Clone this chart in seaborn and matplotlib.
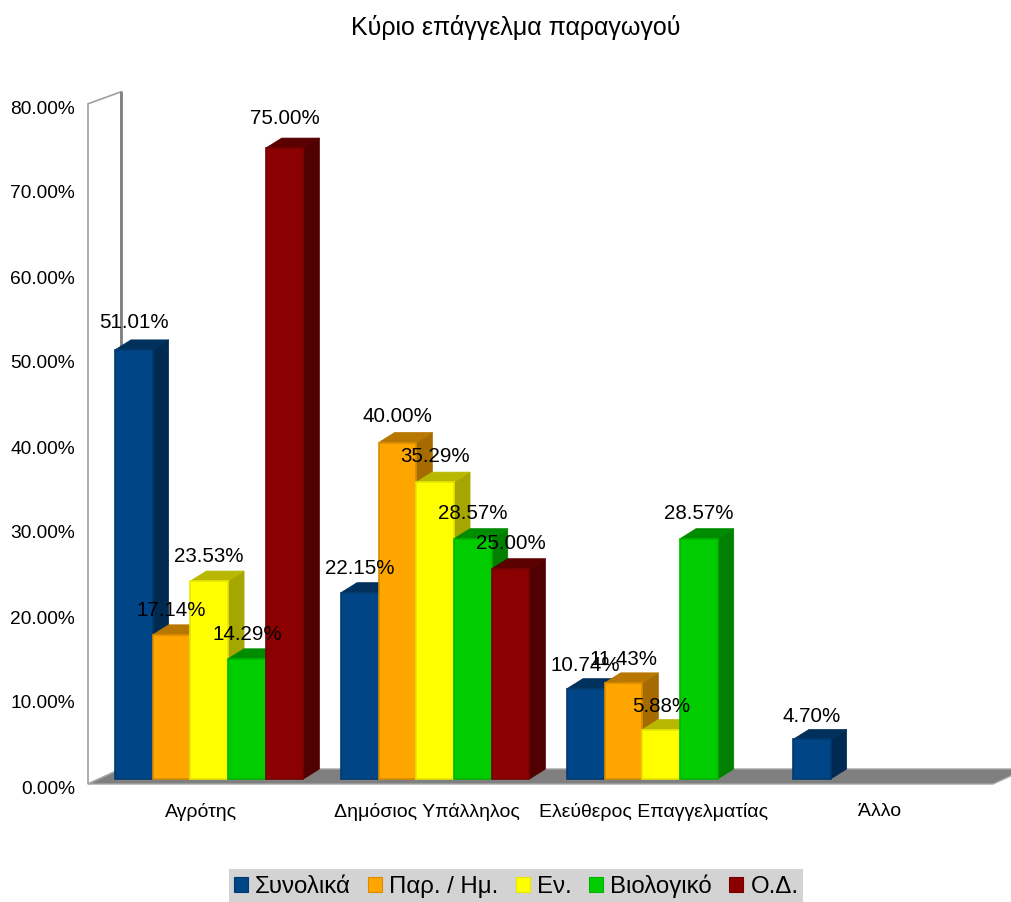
import numpy as np
import pandas as pd
import matplotlib
matplotlib.use("Agg")
import matplotlib.pyplot as plt
from matplotlib.patches import Patch, Polygon
import seaborn as sns

TITLE = "Κύριο επάγγελμα παραγωγού"
categories = ["Αγρότης", "Δημόσιος Υπάλληλος", "Ελεύθερος Επαγγελματίας", "Άλλο"]
series = ["Συνολικά", "Παρ. / Ημ.", "Εν.", "Βιολογικό", "Ο.Δ."]
synolika = [51.01, 22.15, 10.74, 4.70]
par_im = [17.14, 40.00, 11.43, np.nan]
en = [23.53, 35.29, 5.88, np.nan]
viologiko = [14.29, 28.57, 28.57, np.nan]
od = [75.00, 25.00, np.nan, np.nan]
y_ticks = [0, 10, 20, 30, 40, 50, 60, 70, 80]

front_colors = ["#004586", "#FFA500", "#FFFF00", "#00CC00", "#8B0000"]
edge_colors = ["#003A70", "#D98C00", "#E6E600", "#00B400", "#780000"]
side_colors = ["#002A52", "#A66B00", "#A6A600", "#007F00", "#500000"]
top_colors = ["#00305C", "#B87700", "#B8B800", "#008C00", "#5A0000"]

# px sizes of the fake 3D projection
W, H = 1011, 902
PX_X = 226        # px per category
PX_Y = 8.41       # px per percent
BAR_DX, BAR_DY = 16 / PX_X, 10 / PX_Y
BOX_DX, BOX_DY = 33 / PX_X, 15 / PX_Y

df = pd.DataFrame({"category": categories, series[0]: synolika, series[1]: par_im,
                   series[2]: en, series[3]: viologiko, series[4]: od})
long_df = df.melt(id_vars="category", var_name="series", value_name="value").dropna()

sns.set_style("white")
plt.rcParams["font.family"] = ["Liberation Sans", "DejaVu Sans"]
plt.rcParams["text.color"] = "black"
plt.rcParams["xtick.color"] = "black"
plt.rcParams["ytick.color"] = "black"

fig = plt.figure(figsize=(W / 100, H / 100), dpi=100)
ax = fig.add_axes([88 / W, (H - 779) / H, (993 - 88) / W, (779 - 106) / H])
ax.patch.set_visible(False)

# value axis sits on the front edge of the box, not on the bar plane
ax_y = fig.add_axes([88 / W, (H - 787) / H, 1 / W, (787 - 107) / H])
ax_y.patch.set_visible(False)
ax_y.set_ylim(0, 80)
ax_y.set_xticks([])
ax_y.set_yticks(y_ticks)
ax_y.set_yticklabels([f"{t:.2f}%" for t in y_ticks], fontsize=13.8)
ax_y.tick_params(axis="y", length=0, pad=9.4)
sns.despine(ax=ax_y, left=True, bottom=True)

sns.barplot(data=long_df, x="category", y="value", hue="series", order=categories,
            hue_order=series, palette=dict(zip(series, front_colors)), saturation=1,
            width=0.834, gap=0, legend=False, ax=ax)

x_left = (88 - 209.2) / PX_X
ax.set_xlim(x_left, x_left + (993 - 88) / PX_X)
ax.set_ylim(0, 80)

# floor and left wall
floor_y = -5 / PX_Y
x_right = ax.get_xlim()[1]
wall_top = 80.26
ax.add_patch(Polygon([(x_left, floor_y), (x_left, wall_top),
                      (x_left + BOX_DX, wall_top + 12 / PX_Y),
                      (x_left + BOX_DX, floor_y + BOX_DY)],
                     closed=True, fc="white", ec="#A0A0A0", lw=1.2, zorder=1, clip_on=False))
ax.plot([x_left + BOX_DX] * 2, [floor_y + BOX_DY, wall_top + 12 / PX_Y], color="#808080",
        lw=2, zorder=1.1, clip_on=False)
ax.add_patch(Polygon([(x_left, floor_y), (x_right, floor_y),
                      (x_right + BOX_DX, floor_y + BOX_DY), (x_left + BOX_DX, floor_y + BOX_DY)],
                     closed=True, fc="#7F7F7F", ec="#A6A6A6", lw=1, zorder=1.2, clip_on=False))

# extrude every bar, left to right so the next front covers the last side
z = 2.0
bars = []
for s, cont in enumerate(ax.containers):
    bars += [(bar, s) for bar in cont if np.isfinite(bar.get_height())]
for bar, s in sorted(bars, key=lambda b: b[0].get_x()):
    x0, x1, h = bar.get_x(), bar.get_x() + bar.get_width(), bar.get_height()
    ax.add_patch(Polygon([(x1, 0), (x1 + BAR_DX, BAR_DY), (x1 + BAR_DX, h + BAR_DY), (x1, h)],
                         closed=True, fc=side_colors[s], ec=side_colors[s], lw=0.5, zorder=z,
                         clip_on=False))
    ax.add_patch(Polygon([(x0, h), (x0 + BAR_DX, h + BAR_DY), (x1 + BAR_DX, h + BAR_DY), (x1, h)],
                         closed=True, fc=top_colors[s], ec=top_colors[s], lw=0.5, zorder=z,
                         clip_on=False))
    bar.set_edgecolor(edge_colors[s])
    bar.set_linewidth(1.2)
    bar.set_zorder(z + 0.005)
    bar.set_clip_on(False)
    # labels follow the value axis scale
    ax.annotate(f"{h:.2f}%", (x0 + bar.get_width() / 2, h), xycoords=(ax.transData, ax_y.transData),
                xytext=(0, 22), textcoords="offset points", ha="center", va="center",
                fontsize=14.8, color="black", zorder=10, annotation_clip=False)
    z += 0.01

ax.set_xlabel("")
ax.set_ylabel("")
ax.set_xticks(np.arange(len(categories)) - 8 / PX_X)
ax.set_xticklabels(categories, fontsize=14)
ax.set_yticks([])
ax.tick_params(axis="x", length=0, pad=17.5)
sns.despine(ax=ax, left=True, bottom=True)

fig.text(516 / W, 1 - 28 / H, TITLE, ha="center", va="center", fontsize=18)

handles = [Patch(fc=c, ec=e, lw=0.8) for c, e in zip(front_colors, edge_colors)]
fig.legend(handles, series, ncol=5, loc="center", bbox_to_anchor=(516 / W, 1 - 886 / H),
           fontsize=17.3, frameon=True, facecolor="#D3D3D3", edgecolor="none", framealpha=1,
           fancybox=False, handlelength=0.6, handleheight=0.6, handletextpad=0.3,
           columnspacing=0.7, borderpad=0.2, borderaxespad=0)

fig.savefig("out.png", dpi=100)
